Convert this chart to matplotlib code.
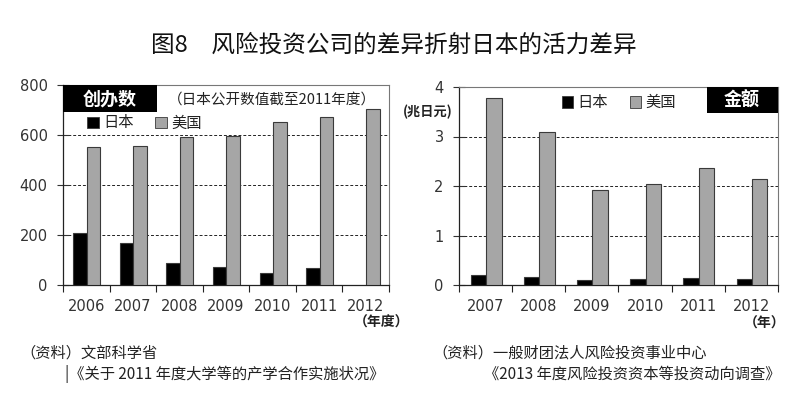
import numpy as np
import matplotlib
matplotlib.use('Agg')
import matplotlib.pyplot as plt
from matplotlib.patches import Rectangle

plt.rcParams['font.family'] = ['Noto Sans CJK SC', 'DejaVu Sans']

# left panel: number of start-ups
years_count = ['2006', '2007', '2008', '2009', '2010', '2011', '2012']
japan_count = [209, 167, 89, 74, 47, 68, np.nan]
us_count = [552, 555, 592, 597, 651, 672, 705]

# right panel: amount (trillion yen)
years_amount = ['2007', '2008', '2009', '2010', '2011', '2012']
japan_amount = [0.21, 0.16, 0.11, 0.13, 0.14, 0.13]
us_amount = [3.77, 3.10, 1.92, 2.04, 2.37, 2.14]

title = '图8　风险投资公司的差异折射日本的活力差异'

JP_COLOR = '#000000'
US_COLOR = '#a6a6a6'
EDGE = '#3a3a3a'
NUM_FONT = ['DejaVu Sans']

fig = plt.figure(figsize=(8.0, 4.04), dpi=100)


def draw_panel(ax, cats, jp, us, ymax, yticks):
    x = np.arange(len(cats))
    w = 0.29
    ax.bar(x - w / 2 + 0.01, jp, width=w, color=JP_COLOR, edgecolor=EDGE, linewidth=0.8, zorder=3)
    ax.bar(x + w / 2 + 0.01, us, width=w, color=US_COLOR, edgecolor=EDGE, linewidth=0.8, zorder=3)
    ax.set_xlim(-0.5, len(cats) - 0.5)
    ax.set_ylim(0, ymax)
    ax.set_yticks(yticks)
    ax.set_yticklabels([str(t) for t in yticks], family=NUM_FONT, fontsize=10.5, color='#333')
    ax.tick_params(axis='y', direction='inout', length=8, width=0.8, pad=7, colors='#333')
    # category boundaries as major ticks, labels on minor ticks
    ax.set_xticks(np.arange(len(cats) + 1) - 0.5)
    ax.set_xticklabels([])
    ax.tick_params(axis='x', which='major', direction='out', length=5, width=0.8, color='#222')
    ax.set_xticks(x, minor=True)
    ax.set_xticklabels(cats, minor=True, family=NUM_FONT, fontsize=10.5, color='#333')
    ax.tick_params(axis='x', which='minor', length=0, pad=10)
    for t in yticks[1:-1]:
        ax.axhline(t, color='#222', linestyle=(0, (3, 2)), linewidth=0.7, zorder=1)
    for side in ['left', 'bottom']:
        ax.spines[side].set_color('#222')
        ax.spines[side].set_linewidth(0.9)
    for side in ['top', 'right']:
        ax.spines[side].set_color('#777')
        ax.spines[side].set_linewidth(0.8)


def add_legend(ax, x0, y0):
    h = [Rectangle((0, 0), 1, 1, facecolor=JP_COLOR, edgecolor=EDGE, lw=0.6),
         Rectangle((0, 0), 1, 1, facecolor=US_COLOR, edgecolor=EDGE, lw=0.6)]
    leg = ax.legend(h, ['日本', '美国'], ncol=2, loc='center left', bbox_to_anchor=(x0, y0),
                    frameon=False, fontsize=11, handlelength=0.75, handleheight=0.75,
                    handletextpad=0.3, columnspacing=1.4, borderpad=0, borderaxespad=0)
    for t in leg.get_texts():
        t.set_color('#222')


# left chart
ax1 = fig.add_axes([63 / 800, 1 - 285 / 404, 326 / 800, 200 / 404])
draw_panel(ax1, years_count, japan_count, us_count, 800, [0, 200, 400, 600, 800])
ax1.add_patch(Rectangle((0, 0.865), 94 / 326, 0.135, transform=ax1.transAxes,
                        facecolor='black', edgecolor='none', zorder=5))
ax1.text(47 / 326, 0.932, '创办数', transform=ax1.transAxes, color='white',
         fontsize=13, fontweight='bold', ha='center', va='center', zorder=6)
ax1.text(0.64, 0.925, '（日本公开数值截至2011年度）', transform=ax1.transAxes,
         fontsize=10.5, ha='center', va='center', color='#222')
add_legend(ax1, 0.075, 0.81)

# right chart
ax2 = fig.add_axes([459 / 800, 1 - 285 / 404, 319 / 800, 198 / 404])
draw_panel(ax2, years_amount, japan_amount, us_amount, 4, [0, 1, 2, 3, 4])
ax2.add_patch(Rectangle(((707 - 459) / 319, 0.87), 71 / 319, 0.13, transform=ax2.transAxes,
                        facecolor='black', edgecolor='none', zorder=5))
ax2.text((742 - 459) / 319, 0.935, '金额', transform=ax2.transAxes, color='white',
         fontsize=13, fontweight='bold', ha='center', va='center', zorder=6)
add_legend(ax2, 0.322, 0.92)

# unit / axis notes
fig.text(403 / 800, 1 - 112 / 404, '(兆日元)', fontsize=9.5, fontweight='bold',
         ha='left', va='center', color='#222')
fig.text(382 / 800, 1 - 323 / 404, '（年度）', fontsize=10, fontweight='bold',
         ha='center', va='center', color='#222')
fig.text(765 / 800, 1 - 324 / 404, '（年）', fontsize=10, fontweight='bold',
         ha='center', va='center', color='#222')

# title
fig.text(394 / 800, 1 - 45 / 404, title, fontsize=17, ha='center', va='center', color='#111')

# sources
fig.text(20 / 800, 1 - 353 / 404, '（资料）文部科学省', fontsize=11, ha='left', va='center', color='#222')
fig.text(65 / 800, 1 - 374 / 404, '|《关于 2011 年度大学等的产学合作实施状况》', fontsize=11,
         ha='left', va='center', color='#222')
fig.text(432 / 800, 1 - 353 / 404, '（资料）一般财团法人风险投资事业中心', fontsize=11,
         ha='left', va='center', color='#222')
fig.text(484 / 800, 1 - 374 / 404, '《2013 年度风险投资资本等投资动向调查》', fontsize=11,
         ha='left', va='center', color='#222')

fig.savefig('out.png', dpi=100)
